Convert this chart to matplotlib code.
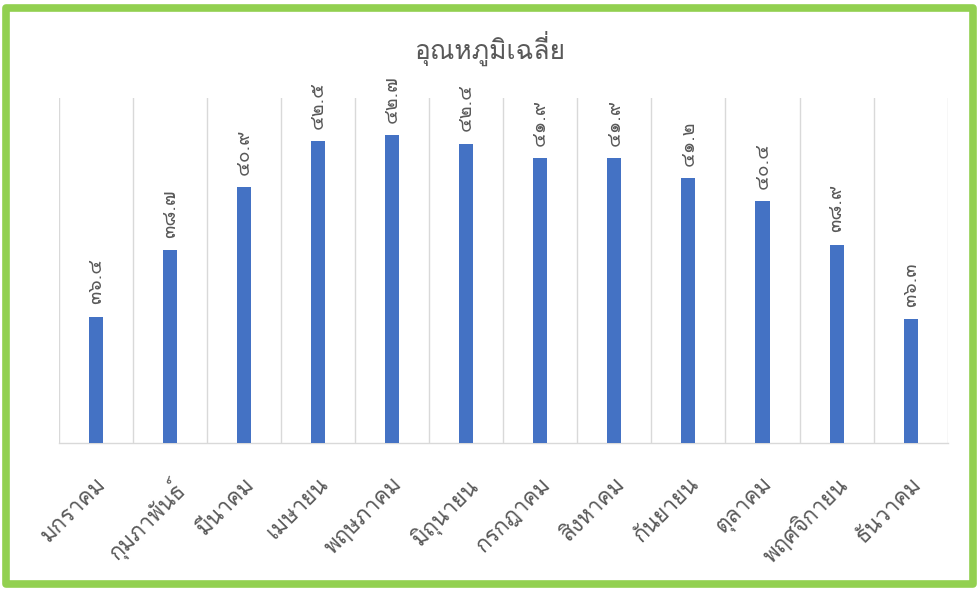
import matplotlib
matplotlib.use("Agg")
import matplotlib.pyplot as plt
from matplotlib.patches import Rectangle

plt.rcParams["font.family"] = ["Loma", "Noto Sans Thai Looped", "DejaVu Sans"]

# data
months = ["มกราคม", "กุมภาพันธ์", "มีนาคม", "เมษายน", "พฤษภาคม", "มิถุนายน",
          "กรกฎาคม", "สิงหาคม", "กันยายน", "ตุลาคม", "พฤศจิกายน", "ธันวาคม"]
temps = [36.4, 38.7, 40.9, 42.5, 42.7, 42.4, 41.9, 41.9, 41.2, 40.4, 38.9, 36.3]
thai_digits = str.maketrans("0123456789", "๐๑๒๓๔๕๖๗๘๙")

text_color = "#595959"
grid_color = "#d9d9d9"

fig = plt.figure(figsize=(9.79, 5.9), dpi=100)
ax = fig.add_axes([0.060, 0.249, 0.908, 0.585])

x = range(len(months))
ax.bar(x, temps, width=0.19, bottom=0, color="#4472C4", zorder=3)
ax.set_ylim(32, 44)
ax.set_xlim(-0.5, len(months) - 0.5)

# value labels in Thai digits
for xi, t in zip(x, temps):
    ax.annotate(f"{t:.1f}".translate(thai_digits), (xi, t), xytext=(0, 9),
                textcoords="offset points", rotation=90, ha="center", va="bottom",
                fontsize=14, color=text_color)

# vertical separators between categories
for b in range(len(months) + 1):
    ax.axvline(b - 0.5, color=grid_color, lw=1.0, zorder=1)

ax.set_yticks([])
for s in ["top", "left", "right"]:
    ax.spines[s].set_visible(False)
ax.spines["bottom"].set_color(grid_color)
ax.spines["bottom"].set_linewidth(1.0)

ax.set_xticks(list(x))
ax.set_xticklabels(months, rotation=45, ha="right", va="top",
                   rotation_mode="anchor", fontsize=16, color=text_color)
ax.tick_params(axis="x", length=0, pad=22)

fig.text(0.5, 0.918, "อุณหภูมิเฉลี่ย", ha="center", va="center",
         fontsize=19, color=text_color)

# green frame
fig.patches.append(Rectangle((6 / 979, 6 / 590), 967 / 979, 576 / 590,
                             transform=fig.transFigure, fill=False,
                             edgecolor="#92D050", lw=5.5, joinstyle="round"))

fig.savefig("out.png", dpi=100)
